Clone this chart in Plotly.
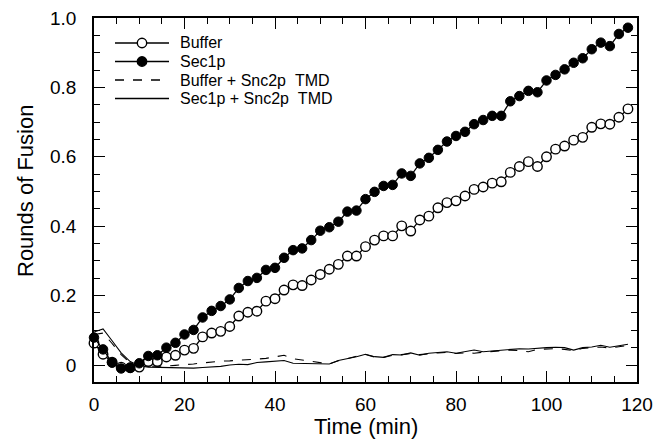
import plotly.graph_objects as go

# === Datos (tiempo en min, rondas de fusión) ===
tiempo = list(range(0, 120, 2))

buffer = [0.063, 0.031, 0.008, -0.006, -0.008, -0.006, 0.010, 0.010, 0.023, 0.028,
          0.043, 0.048, 0.081, 0.092, 0.097, 0.111, 0.141, 0.152, 0.155, 0.184,
          0.191, 0.216, 0.231, 0.229, 0.245, 0.261, 0.276, 0.290, 0.314, 0.314,
          0.341, 0.360, 0.372, 0.372, 0.401, 0.386, 0.418, 0.429, 0.453, 0.468,
          0.473, 0.487, 0.506, 0.513, 0.524, 0.528, 0.555, 0.572, 0.586, 0.572,
          0.600, 0.622, 0.631, 0.648, 0.656, 0.685, 0.695, 0.694, 0.714, 0.738]

sec1p = [0.079, 0.045, 0.007, -0.010, -0.008, 0.005, 0.026, 0.028, 0.050, 0.064,
         0.088, 0.101, 0.137, 0.156, 0.170, 0.189, 0.222, 0.242, 0.251, 0.274,
         0.280, 0.309, 0.331, 0.336, 0.360, 0.387, 0.397, 0.413, 0.442, 0.445,
         0.478, 0.499, 0.516, 0.519, 0.552, 0.545, 0.581, 0.597, 0.620, 0.644,
         0.660, 0.672, 0.694, 0.706, 0.718, 0.718, 0.760, 0.775, 0.790, 0.786,
         0.820, 0.836, 0.852, 0.871, 0.884, 0.910, 0.929, 0.919, 0.954, 0.972]

buffer_tmd = [0.088, 0.092, 0.062, 0.030, 0.006, -0.002, -0.004, -0.004, -0.003, -0.001,
              0.000, 0.003, 0.006, 0.009, 0.011, 0.012, 0.013, 0.014, 0.017, 0.019,
              0.024, 0.028, 0.018, 0.014, 0.012, 0.008, 0.003, 0.012, 0.019, 0.025,
              0.030, 0.023, 0.022, 0.028, 0.030, 0.033, 0.030, 0.033, 0.035, 0.036,
              0.033, 0.035, 0.034, 0.037, 0.039, 0.041, 0.043, 0.042, 0.038, 0.045,
              0.047, 0.047, 0.045, 0.041, 0.048, 0.050, 0.052, 0.049, 0.053, 0.056]

sec1p_tmd = [0.095, 0.104, 0.070, 0.035, 0.010, -0.002, -0.006, -0.007, -0.008, -0.009,
             -0.010, -0.009, -0.007, -0.006, -0.004, 0.000, 0.002, 0.001, 0.007, 0.009,
             0.010, 0.013, 0.005, 0.005, 0.005, 0.004, 0.003, 0.013, 0.018, 0.024,
             0.031, 0.024, 0.022, 0.030, 0.029, 0.035, 0.028, 0.034, 0.036, 0.038,
             0.034, 0.038, 0.043, 0.038, 0.040, 0.043, 0.044, 0.047, 0.046, 0.049,
             0.050, 0.051, 0.050, 0.043, 0.050, 0.052, 0.057, 0.051, 0.056, 0.060]

y_ticks = [0, 0.2, 0.4, 0.6, 0.8, 1.0]
y_ticktext = ["0", "0.2", "0.4", "0.6", "0.8", "1.0"]
x_ticks = [0, 20, 40, 60, 80, 100, 120]

# Leyenda dibujada a mano: (texto, guion, relleno del marcador o None)
leyenda = [
    ("Buffer", "solid", "white"),
    ("Sec1p", "solid", "black"),
    ("Buffer + Snc2p\u00a0\u00a0TMD", "dash", None),
    ("Sec1p + Snc2p\u00a0\u00a0TMD", "solid", None),
]

fuente = "Liberation Sans, Arial, Helvetica, sans-serif"

# La página tiene 8 px de margen en el body: se compensa en el tamaño de la figura
ancho_fig, alto_fig = 658, 433
margen = dict(l=86, r=29, t=10, b=59)
ancho_area = ancho_fig - margen["l"] - margen["r"]   # 543 px
alto_area = alto_fig - margen["t"] - margen["b"]     # 364 px
izq_area, sup_area = 94, 18                          # posición del área en la ventana


def px_a_papel(px, py):
    return (px - izq_area) / ancho_area, 1 - (py - sup_area) / alto_area


fig = go.Figure()

# Líneas sin marcadores (debajo)
fig.add_trace(go.Scatter(
    x=tiempo, y=buffer_tmd, mode="lines", name="Buffer + Snc2p  TMD",
    line=dict(color="black", width=1.1, dash="dash")
))
fig.add_trace(go.Scatter(
    x=tiempo, y=sec1p_tmd, mode="lines", name="Sec1p + Snc2p  TMD",
    line=dict(color="black", width=1.1)
))
# Series con marcadores
fig.add_trace(go.Scatter(
    x=tiempo, y=buffer, mode="lines+markers", name="Buffer",
    line=dict(color="black", width=1.3), cliponaxis=False,
    marker=dict(symbol="circle", size=9.5, color="white",
                line=dict(color="black", width=1.4))
))
fig.add_trace(go.Scatter(
    x=tiempo, y=sec1p, mode="lines+markers", name="Sec1p",
    line=dict(color="black", width=1.3), cliponaxis=False,
    marker=dict(symbol="circle", size=9.5, color="black",
                line=dict(color="black", width=1))
))

# --- leyenda manual ---
for i, (texto, guion, relleno) in enumerate(leyenda):
    x0, yp = px_a_papel(115, 43 + i * 18.5)
    x1, _ = px_a_papel(169, 0)
    xt, _ = px_a_papel(178, 0)
    fig.add_shape(type="line", xref="paper", yref="paper",
                  x0=x0, x1=x1, y0=yp, y1=yp,
                  line=dict(color="black", width=1.3, dash=guion))
    if relleno:
        fig.add_shape(type="circle", xref="paper", yref="paper",
                      xsizemode="pixel", ysizemode="pixel",
                      xanchor=(x0 + x1) / 2, yanchor=yp,
                      x0=-4.7, x1=4.7, y0=-4.7, y1=4.7,
                      fillcolor=relleno, line=dict(color="black", width=1.4))
    fig.add_annotation(text=texto, xref="paper", yref="paper", x=xt, y=yp,
                       xanchor="left", yanchor="middle", showarrow=False,
                       font=dict(size=16, family=fuente, color="black"))

# --- títulos de los ejes ---
xt, yt = px_a_papel(366, 426)
fig.add_annotation(text="Time (min)", xref="paper", yref="paper", x=xt, y=yt,
                   xanchor="center", yanchor="middle", showarrow=False,
                   font=dict(size=22, family=fuente, color="black"))
xt, yt = px_a_papel(25, 191)
fig.add_annotation(text="Rounds of Fusion", xref="paper", yref="paper", x=xt, y=yt,
                   xanchor="center", yanchor="middle", textangle=-90, showarrow=False,
                   font=dict(size=22, family=fuente, color="black"))

fig.update_layout(
    width=ancho_fig, height=alto_fig, margin=margen,
    paper_bgcolor="white", plot_bgcolor="white",
    font=dict(family=fuente, color="black", size=19),
    showlegend=False,
    xaxis=dict(
        range=[0, 120], tickvals=x_ticks, automargin=False, ticklabeloverflow="allow",
        showline=True, linecolor="black", linewidth=1.5, mirror="ticks",
        ticks="inside", ticklen=11, tickwidth=1.2, tickcolor="black",
        minor=dict(dtick=5, ticks="inside", ticklen=6, tickwidth=1.2, tickcolor="black"),
        showgrid=False, zeroline=False,
        tickfont=dict(size=19), ticklabelstandoff=4
    ),
    yaxis=dict(
        range=[-0.049, 1.0], tickvals=y_ticks, ticktext=y_ticktext, automargin=False,
        ticklabeloverflow="allow",
        showline=True, linecolor="black", linewidth=1.5, mirror="ticks",
        ticks="inside", ticklen=11, tickwidth=1.2, tickcolor="black",
        minor=dict(dtick=0.05, tick0=0, ticks="inside", ticklen=6, tickwidth=1.2, tickcolor="black"),
        showgrid=False, zeroline=False,
        tickfont=dict(size=19), ticklabelstandoff=12
    ),
)

fig.write_html("out.html")
